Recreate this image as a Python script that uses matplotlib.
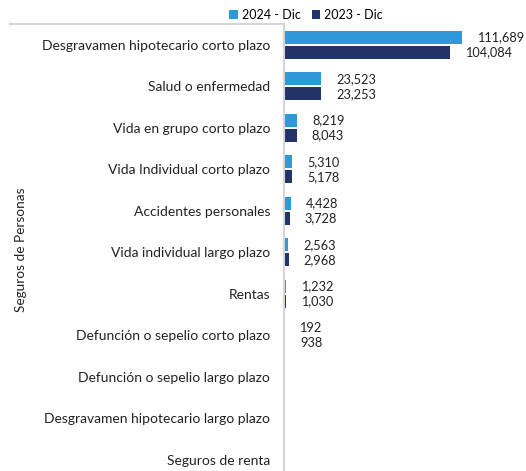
import matplotlib
matplotlib.use("Agg")
import matplotlib.pyplot as plt
import numpy as np

plt.rcParams['font.family'] = ['Lato', 'DejaVu Sans']

categories = [
    "Desgravamen hipotecario corto plazo",
    "Salud o enfermedad",
    "Vida en grupo corto plazo",
    "Vida Individual corto plazo",
    "Accidentes personales",
    "Vida individual largo plazo",
    "Rentas",
    "Defunción o sepelio corto plazo",
    "Defunción o sepelio largo plazo",
    "Desgravamen hipotecario largo plazo",
    "Seguros de renta",
]
values_2024 = [111689, 23523, 8219, 5310, 4428, 2563, 1232, 192, None, None, None]
values_2023 = [104084, 23253, 8043, 5178, 3728, 2968, 1030, 938, None, None, None]
series_names = ["2024 - Dic", "2023 - Dic"]
colors = ["#2F98D8", "#223368"]

W, H = 526, 471
fig = plt.figure(figsize=(W / 100, H / 100), dpi=100)
top_px = 24
spacing = 41.5
n = len(categories)
ax_left = 284 / W
ax_top = 1 - top_px / H
ax_h = n * spacing / H
ax = fig.add_axes([ax_left, ax_top - ax_h, 1 - ax_left, ax_h])

y = np.arange(n)
bh = 0.31
off = 0.18
for vals, name, c, sgn in [(values_2024, series_names[0], colors[0], -1),
                           (values_2023, series_names[1], colors[1], 1)]:
    v = np.array([np.nan if x is None else x for x in vals], dtype=float)
    ax.barh(y + sgn * off, np.nan_to_num(v), height=bh, color=c, label=name)
    for yi, val in zip(y, v):
        if not np.isnan(val):
            ax.annotate(f"{int(val):,}", xy=(val, yi + sgn * off), xytext=(15, 0),
                        textcoords="offset pixels", va="center", ha="left",
                        fontsize=9.2, color="#222222", annotation_clip=False)

ax.set_xlim(0, 152000)
ax.set_ylim(n - 0.5, -0.5)
ax.set_yticks(y)
ax.set_yticklabels(categories, fontsize=10, color="#222222")
ax.tick_params(axis='y', length=0, pad=10)
ax.set_xticks([])
for s in ["top", "right", "bottom"]:
    ax.spines[s].set_visible(False)
ax.spines["left"].set_color("#d4d4dc")
ax.spines["left"].set_linewidth(1.5)

# group bracket line at top
fig.add_artist(plt.Line2D([10 / W, 284 / W], [1 - 24 / H, 1 - 24 / H],
                          color="#d4d4dc", lw=1.5, transform=fig.transFigure))
fig.text(21 / W, 1 - 250 / H, "Seguros de Personas", rotation=90, fontsize=9.8,
         ha="center", va="center", color="#222222")

fig.legend(loc="center", bbox_to_anchor=(306 / W, 1 - 15 / H), ncol=2,
           frameon=False, fontsize=9, handlelength=0.7, handleheight=0.7,
           handletextpad=0.3, columnspacing=0.9, borderaxespad=0)

fig.savefig("out.png", dpi=100)
